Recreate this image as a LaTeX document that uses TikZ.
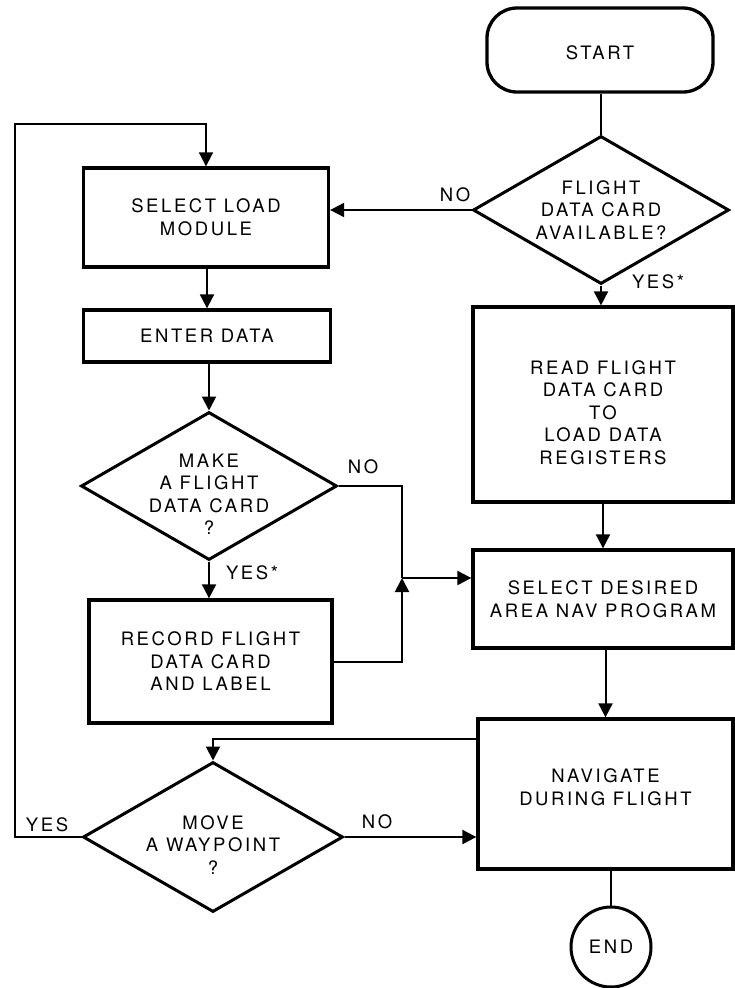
\documentclass[tikz,border=0pt]{standalone}
\usepackage{fontspec}
\setmainfont[LetterSpace=14]{TeX Gyre Heros}
\usetikzlibrary{shapes.geometric,arrows.meta}
\begin{document}
\begin{tikzpicture}[x=1pt,y=-1pt,
  font=\fontsize{18.5}{22.5}\selectfont,
  box/.style={draw, line width=3.3pt, rectangle, inner sep=0pt, align=center},
  dia/.style={draw, line width=3pt, diamond, inner sep=0pt, minimum width=256pt, minimum height=148pt},
  txt/.style={align=center, inner sep=0pt},
  conn/.style={line width=2pt},
  arr/.style={conn, -{Triangle[length=14pt,width=14pt]}},
  lbl/.style={inner sep=0pt}
]
\useasboundingbox (0,0) rectangle (734,988);

% nodes
\node[box, rounded corners=30pt, minimum width=226pt, minimum height=84pt, label={[txt,yshift=-3pt]center:{START}}] (start) at (600,50) {};
\node[dia, label={[txt]center:{FLIGHT\\DATA CARD\\AVAILABLE?}}] (d1) at (601,210) {};
\node[box, minimum width=245pt, minimum height=99pt] (sel) at (206,217.5) {SELECT LOAD\\MODULE};
\node[box, minimum width=247pt, minimum height=52pt] (enter) at (207,336) {ENTER DATA};
\node[dia, label={[txt,yshift=-8pt]center:{MAKE\\A FLIGHT\\DATA CARD\\?}}] (d2) at (209,486) {};
\node[box, minimum width=243pt, minimum height=123pt] (rec) at (210.5,661.5) {RECORD FLIGHT\\DATA CARD\\AND LABEL};
\node[box, minimum width=260pt, minimum height=195pt, label={[txt,yshift=-8pt]center:{READ FLIGHT\\DATA CARD\\TO\\LOAD DATA\\REGISTERS}}] (read) at (603,404.5) {};
\node[box, minimum width=260pt, minimum height=98pt] (sdes) at (603,599) {SELECT DESIRED\\AREA NAV PROGRAM};
\node[box, minimum width=255pt, minimum height=150pt, label={[txt,yshift=7pt]center:{NAVIGATE\\DURING FLIGHT}}] (nav) at (605.5,794) {};
\node[dia, minimum width=260pt, minimum height=150pt, label={[txt,yshift=-8pt]center:{MOVE\\A WAYPOINT\\?}}] (d3) at (213,837) {};
\node[draw, circle, line width=3pt, minimum size=80pt, inner sep=0pt] (end) at (611,947) {END};

% labels
\node[lbl] (l1) at (455,195) {NO};
\node[lbl] (l2) at (658,282) {YES*};
\node[lbl] (l3) at (363,467) {NO};
\node[lbl] (l4) at (252,573) {YES*};
\node[lbl] (l5) at (377,822) {NO};
\node[lbl] (l6) at (47,825) {YES};

% coordinates
\coordinate (j) at (402,578);
\coordinate (lt) at (15,124);

% connectors
\draw[conn] (d1.north) -- (d1.north |- start.south);
\draw[arr] (d1.south) -- (d1.south |- read.north);
\draw[arr] (d1.west) -- (d1.west -| sel.east);
\draw[arr] (sel.south -| enter.north) -- (enter.north);
\draw[arr] (enter.south -| d2.north) -- (d2.north);
\draw[arr] (d2.south) -- (d2.south |- rec.north);
\draw[conn] (d2.east) -| (j);
\draw[arr] (rec.east) -| (j);
\draw[arr] (j) -- (j -| sdes.west);
\draw[arr] (read.south -| sdes.north) -- (sdes.north);
\draw[arr] (sdes.south -| nav.north) -- (nav.north);
\draw[arr] ([yshift=-22pt]nav.north west) -| (d3.north);
\draw[arr] (d3.east) -- (d3.east -| nav.west);
\draw[arr, line width=1.7pt] (d3.west) -| (lt) -| (sel.north);
\draw[conn] (nav.south -| end.north) -- (end.north);
\end{tikzpicture}
\end{document}
